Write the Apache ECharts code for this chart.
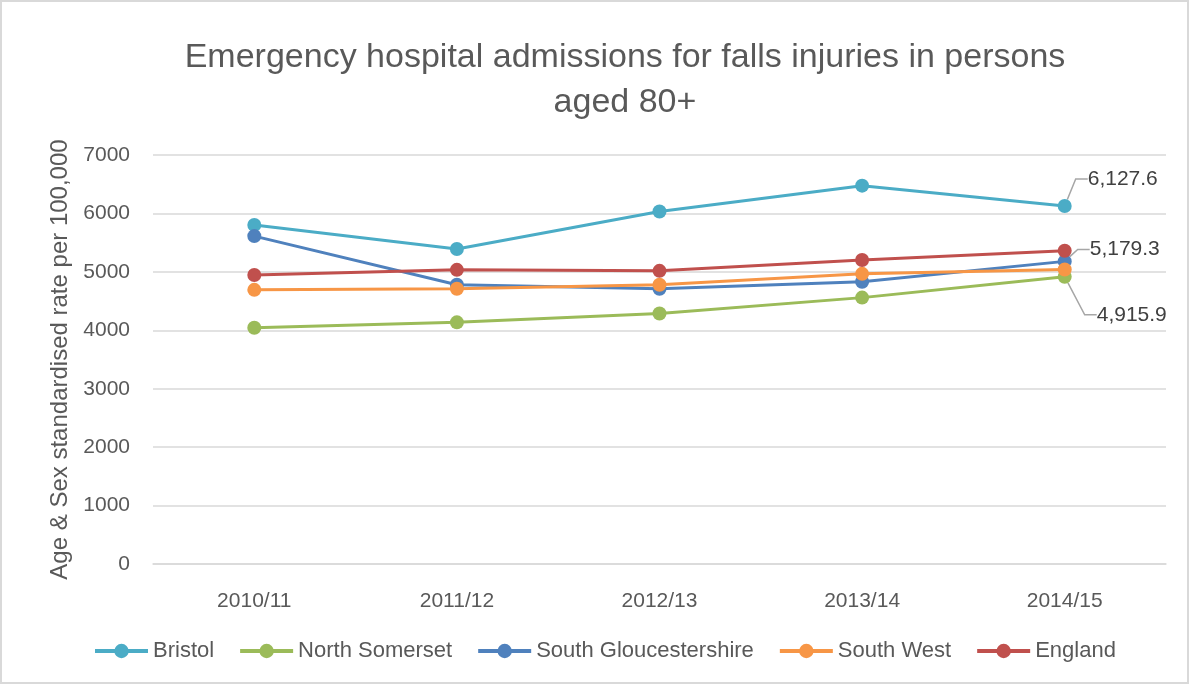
<!DOCTYPE html>
<head>
    <meta charset="utf-8">
    <title>ECharts</title>
    <style>
        html, body { margin: 0; padding: 0; background: #fff; }
        #main { width: 1185px; height: 680px; border: 2px solid #d9d9d9; }
    </style>
</head>
<body>
    <div id="main"></div>
    <script src="https://cdn.jsdelivr.net/npm/echarts@6/dist/echarts.min.js"></script>
    <script type="text/javascript">
var myChart = echarts.init(document.getElementById('main'));

var years = ['2010/11', '2011/12', '2012/13', '2013/14', '2014/15'];
var bristol = [5803, 5390, 6034, 6475, 6127.6];
var northSomerset = [4044, 4136, 4288, 4559, 4915.9];
var southGlos = [5612, 4780, 4712, 4830, 5179.3];
var southWest = [4692, 4712, 4780, 4966, 5040];
var england = [4945, 5034, 5017, 5203, 5361];
var yTicks = [0, 1000, 2000, 3000, 4000, 5000, 6000, 7000];

var FONT = 'Liberation Sans';
var TXT = '#595959';

// only the last point gets a label
function lastLabelled(values) {
    return values.map(function (v, i) {
        if (i !== values.length - 1) return v;
        return { value: v, label: { show: true } };
    });
}

function line(name, color, data, offset) {
    var s = {
        name: name,
        type: 'line',
        data: data,
        symbol: 'circle',
        symbolSize: 14,
        itemStyle: { color: color },
        lineStyle: { color: color, width: 3 },
        emphasis: { disabled: true },
        label: {
            show: false,
            position: 'right',
            formatter: function (p) {
                return p.value.toLocaleString('en-GB', { minimumFractionDigits: 1, maximumFractionDigits: 1 });
            },
            fontFamily: FONT,
            fontSize: 21,
            color: '#404040'
        }
    };
    if (offset) {
        s.labelLayout = { dx: offset[0], dy: offset[1] };
        s.labelLine = { show: true, length2: 12, lineStyle: { color: '#a6a6a6', width: 1.5 } };
    }
    return s;
}

myChart.setOption({
    animation: false,
    textStyle: { fontFamily: FONT },
    title: {
        text: 'Emergency hospital admissions for falls injuries in persons\naged 80+',
        left: 618,
        textAlign: 'center',
        top: 28,
        textStyle: { fontFamily: FONT, fontSize: 34, fontWeight: 'normal', color: TXT, lineHeight: 45 }
    },
    legend: {
        top: 633,
        left: 86,
        itemWidth: 53,
        itemHeight: 18,
        itemGap: 24,
        lineStyle: { width: 4 },
        textStyle: { fontFamily: FONT, fontSize: 22, color: TXT },
        data: ['Bristol', 'North Somerset', 'South Gloucestershire', 'South West', 'England']
    },
    grid: { left: 151, right: 21, top: 153, bottom: 118 },
    xAxis: {
        type: 'category',
        data: years,
        axisLine: { lineStyle: { color: '#d9d9d9', width: 1.5 } },
        axisTick: { show: false },
        axisLabel: { fontFamily: FONT, fontSize: 21, color: TXT, margin: 27 }
    },
    yAxis: {
        type: 'value',
        min: yTicks[0],
        max: yTicks[yTicks.length - 1],
        interval: 1000,
        name: 'Age & Sex standardised rate per 100,000',
        nameLocation: 'middle',
        nameGap: 74,
        nameTextStyle: { fontFamily: FONT, fontSize: 24, color: TXT },
        axisLine: { show: false },
        axisTick: { show: false },
        axisLabel: { fontFamily: FONT, fontSize: 21, color: TXT, margin: 23, formatter: function (v) { return String(v); } },
        splitLine: { lineStyle: { color: '#d9d9d9', width: 1.5 } }
    },
    series: [
        line('Bristol', '#4BACC6', lastLabelled(bristol), [11, -27]),
        line('North Somerset', '#9BBB59', lastLabelled(northSomerset), [20, 38]),
        line('South Gloucestershire', '#4F81BD', lastLabelled(southGlos), [13, -12]),
        line('South West', '#F79646', southWest),
        line('England', '#C0504D', england)
    ]
});
    </script>
</body>
